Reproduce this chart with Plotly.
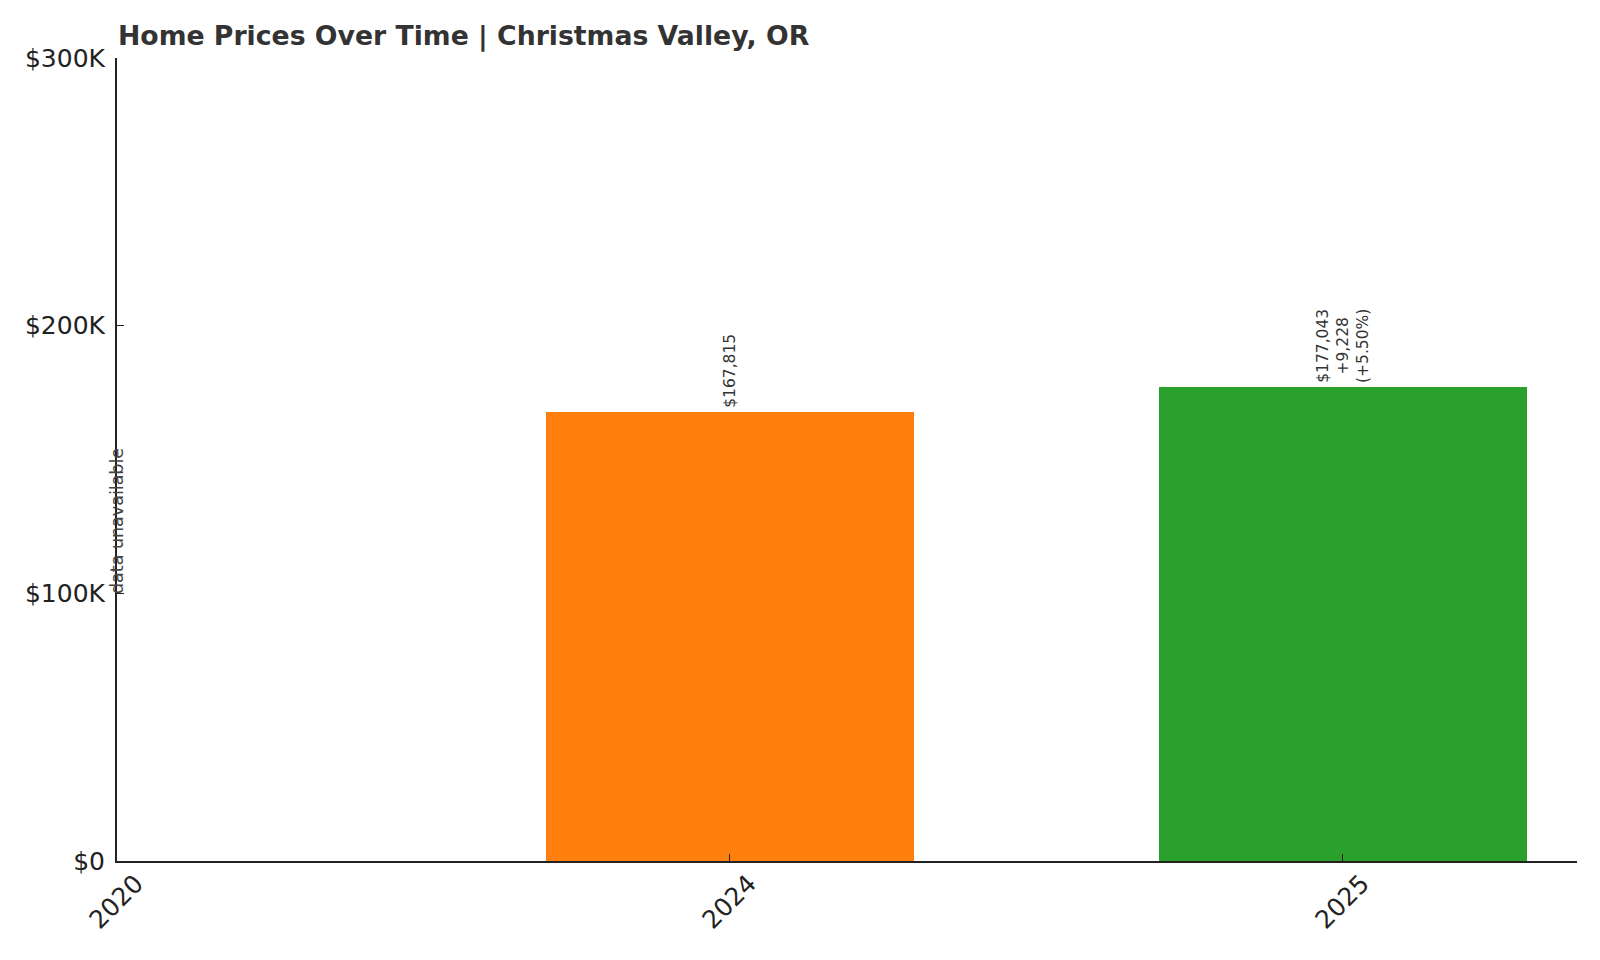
import plotly.graph_objects as go

categories = ["2020", "2024", "2025"]
values = [None, 167815, 177043]
colors = ["#1f77b4", "#ff7f0e", "#2ca02c"]
labels = ["", "$167,815", "$177,043<br>+9,228<br>(+5.50%)"]
y_ticks = [0, 100000, 200000, 300000]
y_tick_labels = ["$0", "$100K", "$200K", "$300K"]

xpos = list(range(len(categories)))

fig = go.Figure()
fig.add_trace(go.Bar(
    x=[xpos[i] for i in range(len(categories)) if values[i] is not None],
    y=[v for v in values if v is not None],
    marker=dict(color=[colors[i] for i in range(len(categories)) if values[i] is not None], line=dict(width=0)),
    width=0.6,
    hoverinfo="skip",
))

for i, (v, lab) in enumerate(zip(values, labels)):
    if v is None:
        fig.add_annotation(x=xpos[i], y=127000, text="data unavailable", textangle=-90,
                           showarrow=False, xanchor="center", yanchor="middle",
                           font=dict(size=17.5, color="#444", family="DejaVu Sans"))
    else:
        fig.add_annotation(x=xpos[i], y=v, text=lab, textangle=-90, showarrow=False,
                           xanchor="center", yanchor="bottom", align="center", yshift=2,
                           font=dict(size=15.5, color="#333", family="DejaVu Sans"))

fig.update_layout(
    width=1600, height=960,
    margin=dict(l=117, r=23, t=58, b=99),
    plot_bgcolor="white", paper_bgcolor="white",
    showlegend=False,
    font=dict(family="DejaVu Sans", color="#222"),
    title=dict(text="<b>Home Prices Over Time | Christmas Valley, OR</b>", x=118/1600, xanchor="left",
               y=1-36/960, yanchor="middle", font=dict(size=26.7, color="#333", family="DejaVu Sans")),
    bargap=0,
)
fig.update_xaxes(
    range=[0, 2.382], tickmode="array", tickvals=xpos, ticktext=categories, tickangle=-45,
    showline=True, linecolor="#222", linewidth=2, ticks="inside", ticklen=7, tickcolor="#222",
    ticklabelstandoff=-4, ticklabelshift=19,
    showgrid=False, zeroline=False, tickfont=dict(size=25, color="#222"),
)
fig.update_yaxes(
    range=[0, 300000], tickmode="array", tickvals=y_ticks, ticktext=y_tick_labels,
    showline=True, linecolor="#222", linewidth=2, ticks="inside", ticklen=7, tickcolor="#222",
    ticklabelstandoff=5,
    showgrid=False, zeroline=False, tickfont=dict(size=25, color="#222"),
)

fig.write_html("out.html", config={"displayModeBar": False},
               post_script="document.body.style.margin='0';document.body.style.overflow='hidden';")
